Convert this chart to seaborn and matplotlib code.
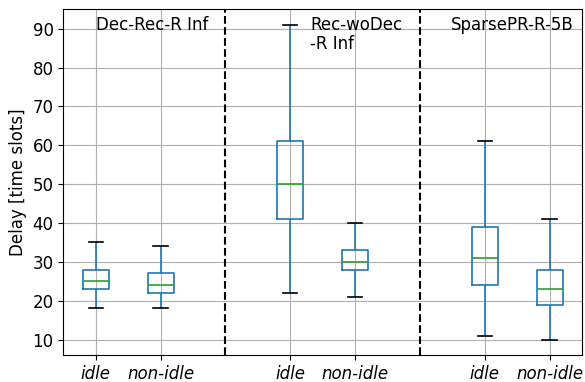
import matplotlib
matplotlib.use("Agg")
import matplotlib.pyplot as plt
import seaborn as sns
import pandas as pd

# Box positions along x and their tick labels
positions = [1, 2, 4, 5, 7, 8]
tick_labels = ["idle", "non-idle", "idle", "non-idle", "idle", "non-idle"]

# Five-number summaries of delay per box (time slots)
low = [18, 18, 22, 21, 11, 10]
q1 = [23, 22, 41, 28, 24, 19]
median = [25, 24, 50, 30, 31, 23]
q3 = [28, 27, 61, 33, 39, 28]
high = [35, 34, 91, 40, 61, 41]

# Scheme names shown in each panel
schemes = ["Dec-Rec-R Inf", "Rec-woDec\n-R Inf", "SparsePR-R-5B"]
scheme_x = [1.0, 4.31, 6.48]
separators = [3, 6]

rows = []
for pos, a, b, c, d, e in zip(positions, low, q1, median, q3, high):
    for v in (a, b, c, d, e):
        rows.append({"pos": pos, "delay": v})
df = pd.DataFrame(rows)

fig = plt.figure(figsize=(5.85, 3.82), dpi=100)
ax = fig.add_axes([0.1082, 0.0699, 0.9949 - 0.1082, 0.9764 - 0.0699])

sns.boxplot(
    data=df, x="pos", y="delay", native_scale=True, ax=ax,
    fill=False, color="#1f77b4", width=0.4, linewidth=1.2,
    whis=(0, 100),
    medianprops={"color": "#2ca02c"},
    capprops={"color": "black"},
    capwidths=0.22,
)

for s in separators:
    ax.axvline(s, color="black", ls="--", lw=1.5)

for name, x in zip(schemes, scheme_x):
    ax.text(x, 93.3, name, fontsize=12, va="top", ha="left", linespacing=1.1)

ax.set_xlim(0.5, 8.5)
ax.set_ylim(5.95, 95.05)
ax.set_xticks(positions)
ax.set_xticklabels(tick_labels, fontsize=12, fontstyle="italic")
ax.set_yticks(range(10, 91, 10))
ax.tick_params(axis="y", labelsize=12)
ax.set_xlabel("")
ax.set_ylabel("Delay [time slots]", fontsize=12)
ax.grid(True, color="#b0b0b0", lw=0.8)
ax.set_axisbelow(True)

fig.savefig("out.png", dpi=100)
